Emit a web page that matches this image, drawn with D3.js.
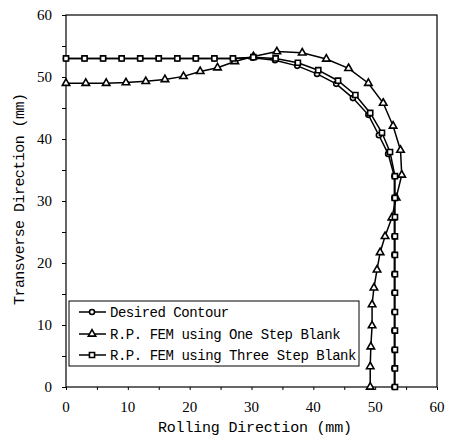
<!DOCTYPE html>
<html>
<head>
<meta charset="utf-8">
<script src="https://cdn.jsdelivr.net/npm/d3@7"></script>
<style>
  body { margin: 0; background: #fff; }
</style>
</head>
<body>
<div id="chart"></div>
<script>
// data (mm)
var desiredX = [0, 3, 6, 9, 12, 15, 18, 21, 24, 27, 30.2, 33.8, 37.4, 40.6, 43.7, 46.4, 48.9, 50.6, 52.1, 53.1, 53.1, 53.1, 53.1, 53.1, 53.1, 53.1, 53.1, 53.1, 53.1, 53.1, 53.1];
var desiredY = [53, 53, 53, 53, 53, 53, 53, 53, 53, 53, 53.1, 52.7, 51.8, 50.5, 48.9, 46.6, 43.9, 40.6, 37.6, 34, 30.5, 27.4, 24.3, 21.3, 18.2, 15.2, 12.1, 9.1, 6, 3, 0];

var oneStepX = [0, 3.2, 6.5, 9.7, 12.9, 16, 19, 21.7, 24.5, 27.3, 30.3, 34.1, 38.2, 42.1, 45.7, 48.9, 51.3, 52.9, 54.1, 54.3, 53.4, 52.7, 51.6, 50.8, 50.3, 49.8, 49.5, 49.5, 49.3, 49.2, 49.2];
var oneStepY = [49, 49, 49, 49.1, 49.3, 49.6, 50.1, 50.9, 51.5, 52.5, 53.3, 54.1, 53.9, 52.9, 51.4, 49, 45.8, 42.1, 38.2, 34.2, 30.5, 27.3, 24.3, 21.7, 18.9, 16, 13.3, 9.9, 6.5, 3.3, 0];

var threeStepX = [0, 3, 6, 9, 12, 15, 18, 21, 24, 27, 30.3, 33.9, 37.5, 40.8, 44, 46.8, 49.2, 51.1, 52.4, 53.2, 53.2, 53.2, 53.2, 53.2, 53.2, 53.2, 53.2, 53.2, 53.2, 53.2, 53.2];
var threeStepY = [53, 53, 53, 53, 53, 53, 53, 53, 53, 53, 53.2, 53, 52.3, 51.1, 49.4, 47.1, 44.2, 41, 37.9, 34, 30.5, 27.4, 24.3, 21.3, 18.2, 15.2, 12.1, 9.1, 6, 3, 0];

var seriesNames = ["Desired Contour", "R.P. FEM using One Step Blank", "R.P. FEM using Three Step Blank"];
var tickValues = [0, 10, 20, 30, 40, 50, 60];

var W = 449, H = 438;
var mLeft = 66, mRight = 437, mTop = 15, mBottom = 387;

var svg = d3.select("#chart").append("svg")
    .attr("width", W).attr("height", H);

var x = d3.scaleLinear().domain([0, 60]).range([mLeft, mRight]);
var y = d3.scaleLinear().domain([0, 60]).range([mBottom, mTop]);

// frame
svg.append("rect")
    .attr("x", mLeft).attr("y", mTop)
    .attr("width", mRight - mLeft).attr("height", mBottom - mTop)
    .attr("fill", "none").attr("stroke", "#000").attr("stroke-width", 1.2);

// axes, minor ticks every 5
var minor = d3.range(0, 61, 5);
var xAxis = d3.axisBottom(x).tickValues(minor).tickSize(3).tickFormat("");
var yAxis = d3.axisLeft(y).tickValues(minor).tickSize(4).tickFormat("");
svg.append("g").attr("transform", "translate(0," + mBottom + ")").call(xAxis)
    .call(function (g) { g.select(".domain").remove(); });
svg.append("g").attr("transform", "translate(" + mLeft + ",0)").call(yAxis)
    .call(function (g) { g.select(".domain").remove(); });

// tick labels
svg.append("g").selectAll("text").data(tickValues).enter().append("text")
    .attr("x", function (d) { return x(d); })
    .attr("y", 412)
    .attr("text-anchor", "middle")
    .style("font-family", "Liberation Serif")
    .style("font-size", "15px")
    .text(function (d) { return d; });
svg.append("g").selectAll("text").data(tickValues).enter().append("text")
    .attr("x", 52)
    .attr("y", function (d) { return y(d) + 5; })
    .attr("text-anchor", "end")
    .style("font-family", "Liberation Serif")
    .style("font-size", "15px")
    .text(function (d) { return d; });

// axis titles
svg.append("text")
    .attr("x", 255).attr("y", 432)
    .attr("text-anchor", "middle")
    .attr("textLength", 194)
    .style("font-family", "Liberation Mono")
    .style("font-size", "15px")
    .text("Rolling Direction (mm)");
svg.append("text")
    .attr("transform", "translate(24,199) rotate(-90)")
    .attr("text-anchor", "middle")
    .attr("textLength", 212)
    .style("font-family", "Liberation Mono")
    .style("font-size", "15px")
    .text("Transverse Direction (mm)");

// series
var series = [
  { xs: desiredX, ys: desiredY, sym: d3.symbolCircle, size: 20 },
  { xs: oneStepX, ys: oneStepY, sym: d3.symbolTriangle, size: 24 },
  { xs: threeStepX, ys: threeStepY, sym: d3.symbolSquare, size: 26 }
];

var line = d3.line()
    .x(function (d) { return x(d[0]); })
    .y(function (d) { return y(d[1]); });

series.forEach(function (s) {
  var pts = d3.zip(s.xs, s.ys);
  svg.append("path")
      .attr("d", line(pts))
      .attr("fill", "none").attr("stroke", "#000").attr("stroke-width", 1.5);
  svg.append("g").selectAll("path").data(pts).enter().append("path")
      .attr("d", d3.symbol().type(s.sym).size(s.size))
      .attr("transform", function (d) { return "translate(" + x(d[0]) + "," + y(d[1]) + ")"; })
      .attr("fill", "#fff").attr("stroke", "#000").attr("stroke-width", 1.6);
});

// legend
var lg = svg.append("g");
lg.append("rect")
    .attr("x", 69).attr("y", 301).attr("width", 290).attr("height", 65)
    .attr("fill", "#fff").attr("stroke", "#000").attr("stroke-width", 1);
var rows = [312, 334, 355];
seriesNames.forEach(function (name, i) {
  var ry = rows[i];
  lg.append("line")
      .attr("x1", 79).attr("x2", 106).attr("y1", ry).attr("y2", ry)
      .attr("stroke", "#000").attr("stroke-width", 1.5);
  lg.append("path")
      .attr("d", d3.symbol().type(series[i].sym).size(series[i].size))
      .attr("transform", "translate(92," + ry + ")")
      .attr("fill", "#fff").attr("stroke", "#000").attr("stroke-width", 1.6);
  lg.append("text")
      .attr("x", 110).attr("y", ry + 5)
      .attr("textLength", name.length * 7.95)
      .style("font-family", "Liberation Mono")
      .style("font-size", "14px")
      .text(name);
});
</script>
</body>
</html>
